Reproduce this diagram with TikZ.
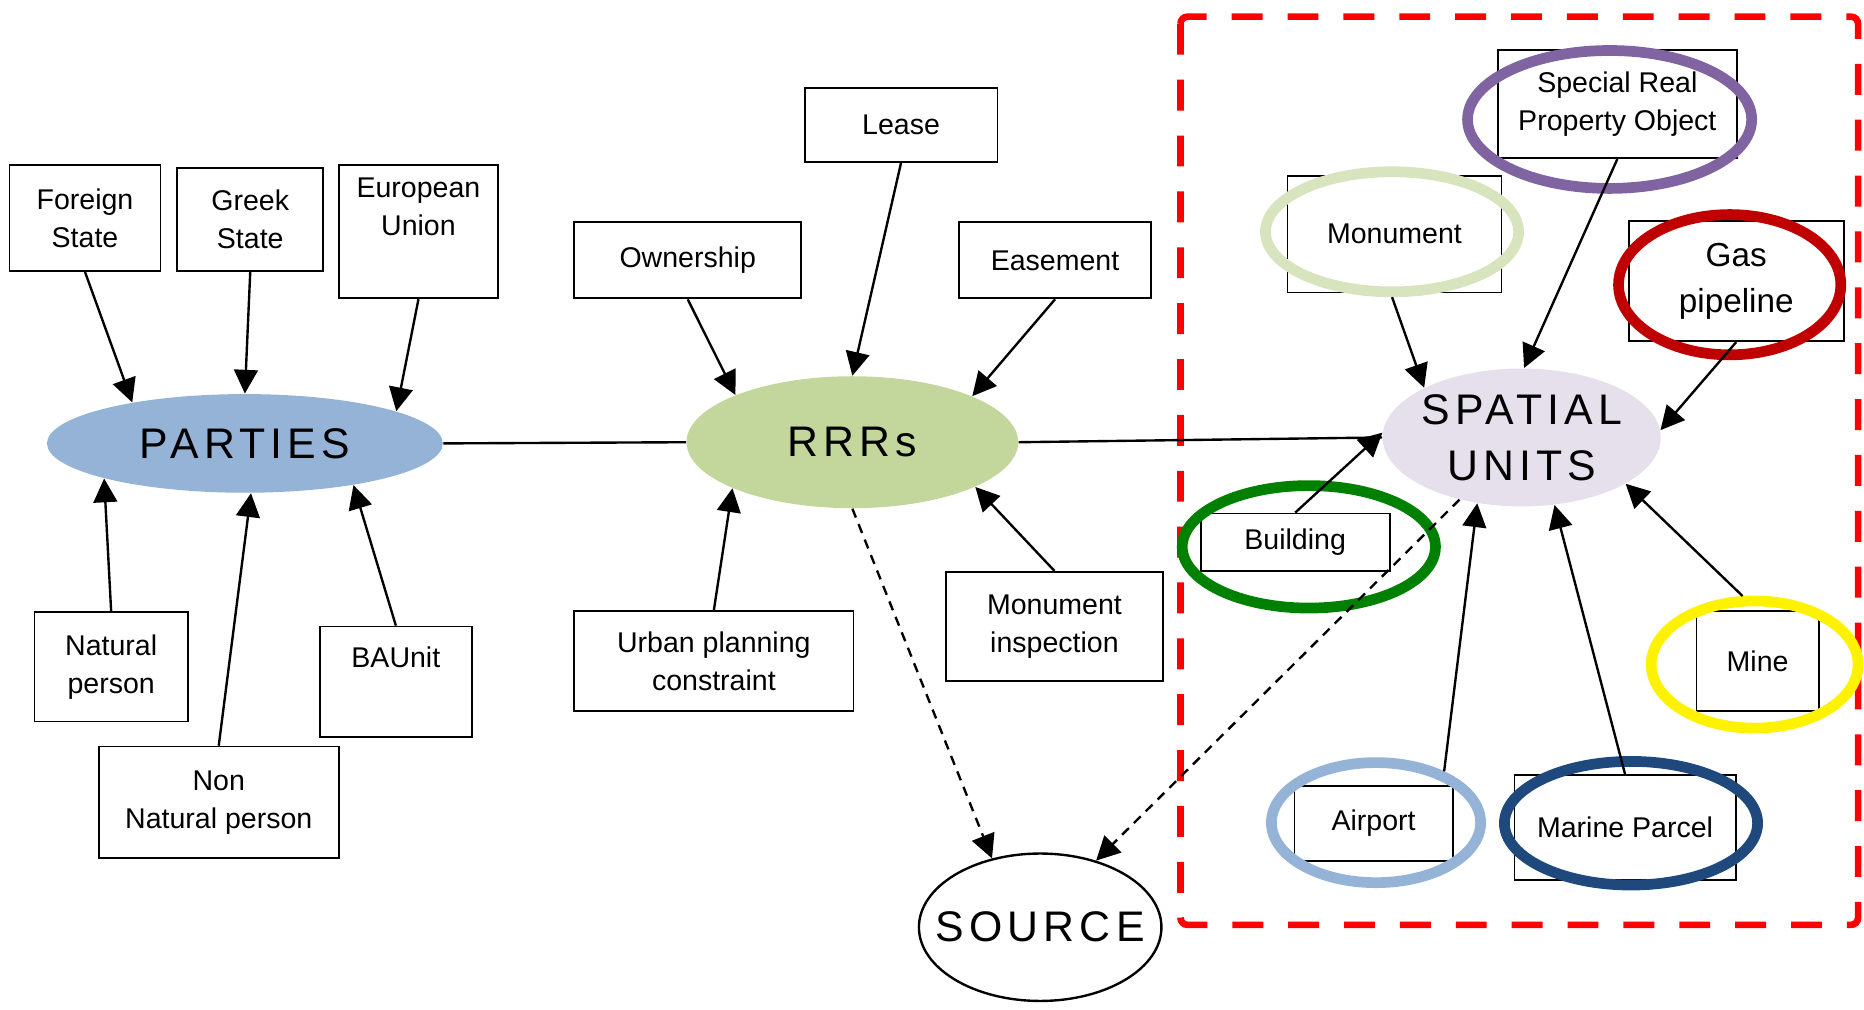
\documentclass[tikz,border=0pt]{standalone}
\usepackage{fontspec}
\setmainfont{Liberation Sans}
\newfontfamily\spacedfont[LetterSpace=12]{Liberation Sans}
\usepackage{xcolor}
\usepackage{tikz}
\usetikzlibrary{arrows.meta, shapes}

\definecolor{partiesblue}{HTML}{95B3D7}
\definecolor{rrrgreen}{HTML}{C3D69B}
\definecolor{sulilac}{HTML}{E5E0EC}
\definecolor{purplering}{HTML}{8064A2}
\definecolor{greenpale}{HTML}{D7E4BD}
\definecolor{darkred}{HTML}{C00000}
\definecolor{leafgreen}{HTML}{008000}
\definecolor{navyring}{HTML}{1F497D}

\newcommand{\zw}[1]{\makebox[0pt]{#1}}

\begin{document}
\begin{tikzpicture}[
    x=0.5pt, y=-0.5pt,
    font=\fontsize{12}{16}\selectfont,
    box/.style={rectangle, draw, line width=0.75pt, inner sep=0pt, align=center},
    ring/.style={ellipse, draw, line width=4.5pt, inner sep=0pt},
    hub/.style={ellipse, inner sep=0pt, align=center, font={\spacedfont\fontsize{18}{23.5}\selectfont}},
    arrow/.style={-{Triangle[length=10pt, width=10pt]}, line width=1pt},
    darrow/.style={arrow, dash pattern=on 4pt off 3pt}
  ]
    \useasboundingbox (0,0) rectangle (1568,849);

    % spatial group
    \draw[red, line width=2.8pt, dash pattern=on 13pt off 10.5pt, rounded corners=3pt] (993,14) rectangle (1563,778);

    % hubs
    \node[hub, fill=partiesblue, minimum width=166.5pt, minimum height=41.5pt] (parties) at (206,373) {PARTIES};
    \node[hub, fill=rrrgreen, minimum width=139.5pt, minimum height=55.5pt] (rrr) at (717,372) {RRRs};
    \node[hub, fill=sulilac, minimum width=117pt, minimum height=58pt] (su) at (1280,368) {\zw{SPATIAL}\\\zw{UNITS}};
    \node[hub, draw, fill=white, line width=1pt, minimum width=102pt, minimum height=62pt] (src) at (875,780) {\zw{SOURCE}};

    % parties
    \node[box, minimum width=63.5pt, minimum height=44.5pt] (fs) at (71.5,183.5) {Foreign\\State};
    \node[box, minimum width=61.5pt, minimum height=43.5pt] (gs) at (210.5,184.5) {Greek\\State};
    \node[box, minimum width=67pt, minimum height=56pt] (eu) at (352,195) {European\\Union\\\strut};
    \node[box, minimum width=64.5pt, minimum height=46pt] (np) at (93.5,561) {Natural\\person};
    \node[box, minimum width=101pt, minimum height=47pt] (nnp) at (184,675) {Non\\Natural person};
    \node[box, minimum width=64pt, minimum height=46.5pt] (bau) at (333,573.5) {BAUnit\\\strut};

    % rrrs
    \node[box, minimum width=81pt, minimum height=31pt] (lease) at (758,105) {Lease};
    \node[box, minimum width=95.5pt, minimum height=32pt] (own) at (578.5,219) {Ownership};
    \node[box, minimum width=80.5pt, minimum height=32pt] (ease) at (887.5,219) {Easement};
    \node[box, minimum width=117.5pt, minimum height=42pt] (urban) at (600.5,556) {Urban planning\\constraint};
    \node[box, minimum width=91pt, minimum height=46pt] (moninsp) at (887,527) {Monument\\inspection};

    % spatial units
    \node[box, minimum width=100.5pt, minimum height=45.5pt] (srpo) at (1360.5,87.5) {Special Real\\Property Object};
    \node[box, minimum width=90pt, minimum height=49pt] (mon) at (1173,197) {Monument};
    \node[box, minimum width=90.5pt, minimum height=50.5pt, font=\fontsize{14}{19.5}\selectfont] (gas) at (1460.5,236.5) {Gas\\pipeline};
    \node[box, minimum width=79.5pt, minimum height=24pt] (bld) at (1089.5,456) {Building};
    \node[box, minimum width=51.5pt, minimum height=42pt] (mine) at (1478.5,556) {Mine};
    \node[box, minimum width=66.5pt, minimum height=31.5pt] (air) at (1155.5,692.5) {Airport};
    \node[box, minimum width=93pt, minimum height=44pt] (mar) at (1367,696) {Marine Parcel};

    % rings
    \node[ring, draw=purplering, minimum width=119.5pt, minimum height=58pt] (srporing) at (1354,100.5) {};
    \node[ring, draw=greenpale, minimum width=106.5pt, minimum height=50.5pt] (monring) at (1171,195) {};
    \node[ring, draw=darkred, minimum width=93.5pt, minimum height=59pt] (gasring) at (1455,239.5) {};
    \node[ring, draw=leafgreen, minimum width=106.5pt, minimum height=51.5pt] (bldring) at (1101,460) {};
    \node[ring, draw=yellow, minimum width=87pt, minimum height=53.5pt] (minering) at (1476,559) {};
    \node[ring, draw=partiesblue, minimum width=88pt, minimum height=50.5pt] (airring) at (1157.5,692) {};
    \node[ring, draw=navyring, minimum width=106.5pt, minimum height=52pt] (marring) at (1372,692.5) {};

    \draw[arrow] (fs.south) -- (parties.160);
    \draw[arrow] (gs.south) -- (parties.north);
    \draw[arrow] (eu.south) -- (parties.12);
    \draw[arrow] (np.north) -- (parties.194);
    \draw[arrow] (nnp.north) -- (parties.277);
    \draw[arrow] (bau.north) -- (parties.339);
    \draw[line width=1pt] (parties.east) -- (rrr.west);

    \draw[arrow] (lease.south) -- (rrr.north);
    \draw[arrow] (own.south) -- (rrr.158);
    \draw[arrow] (ease.south) -- (rrr.21);
    \draw[arrow] (urban.north) -- (rrr.201);
    \draw[arrow] (moninsp.north) -- (rrr.340);
    \draw[darrow] (rrr.south) -- (src.125);
    \draw[line width=1pt] (rrr.east) -- (su.west);

    \draw[arrow] (monring.south) -- (su.153);
    \draw[arrow] (srpo.south) -- (su.88);
    \draw[arrow] (gas.south) -- (su.3);
    \draw[arrow] (bld.north) -- (su.178);
    \draw[arrow] (airring.37) -- (su.236);
    \draw[arrow] (mar.north) -- (su.296);
    \draw[arrow] (minering.100) -- (su.336);
    \draw[darrow] (su.225) -- (src.50);
  \end{tikzpicture}
\end{document}
